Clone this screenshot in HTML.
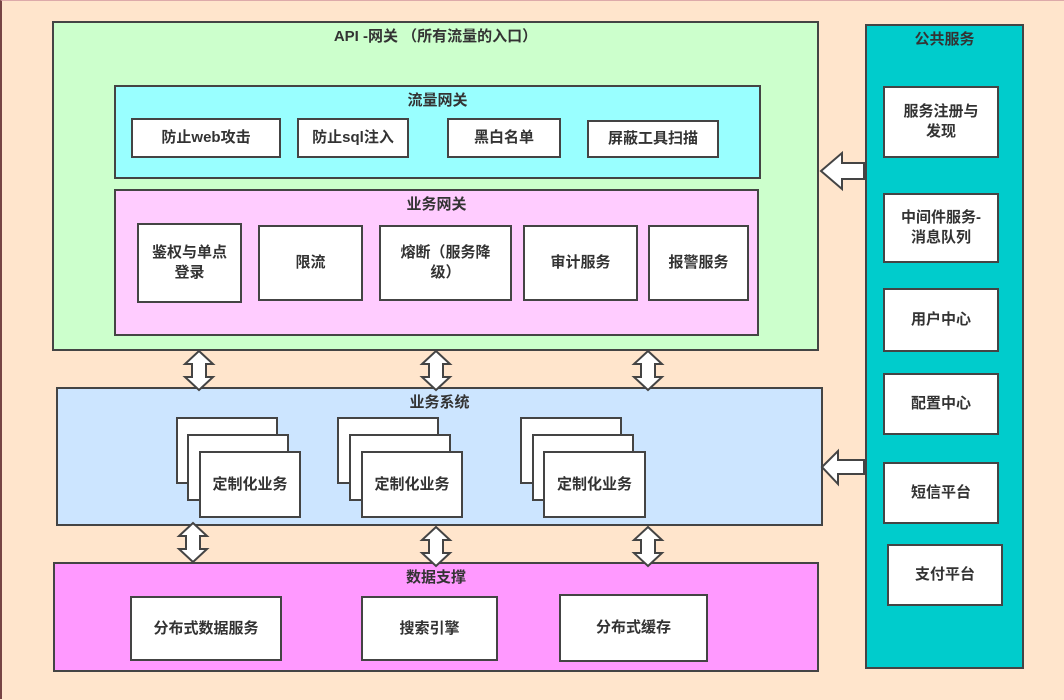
<!DOCTYPE html>
<html><head><meta charset="utf-8"><style>
body{margin:0;width:1064px;height:700px;background:#FFE5CC;position:relative;overflow:hidden;font-family:"Liberation Sans","Noto Sans CJK SC",sans-serif;font-weight:bold;color:#333;}
.b{position:absolute;box-sizing:border-box;border:2px solid #444;}
.w{background:#fff;display:flex;align-items:center;justify-content:center;text-align:center;font-size:15px;line-height:20px;}
.t{position:absolute;left:0;right:0;text-align:center;font-size:15px;}
svg{position:absolute;left:0;top:0;}
</style></head><body>
<div style="position:absolute;left:0;top:0;width:1062px;height:698px;border-left:2px solid #744;border-top:1px solid #daa;"></div>

<div class="b" style="left:52px;top:21px;width:767px;height:330px;background:#CCFFCC;"><div class="t" style="top:2px;">API -网关 （所有流量的入口）</div></div>
<div class="b" style="left:114px;top:85px;width:647px;height:94px;background:#99FFFF;"><div class="t" style="top:2px;">流量网关</div></div>
<div class="b w" style="left:131px;top:118px;width:150px;height:40px;">防止web攻击</div>
<div class="b w" style="left:297px;top:118px;width:112px;height:40px;">防止sql注入</div>
<div class="b w" style="left:447px;top:118px;width:114px;height:40px;">黑白名单</div>
<div class="b w" style="left:587px;top:120px;width:132px;height:38px;">屏蔽工具扫描</div>

<div class="b" style="left:114px;top:189px;width:645px;height:147px;background:#FFCCFF;"><div class="t" style="top:2px;">业务网关</div></div>
<div class="b w" style="left:137px;top:223px;width:105px;height:80px;">鉴权与单点<br>登录</div>
<div class="b w" style="left:258px;top:225px;width:105px;height:76px;">限流</div>
<div class="b w" style="left:379px;top:225px;width:133px;height:76px;">熔断（服务降<br>级）</div>
<div class="b w" style="left:523px;top:225px;width:115px;height:76px;">审计服务</div>
<div class="b w" style="left:648px;top:225px;width:101px;height:76px;">报警服务</div>

<div class="b" style="left:56px;top:387px;width:767px;height:139px;background:#CCE5FF;"><div class="t" style="top:2px;">业务系统</div></div>
<div class="b" style="left:176px;top:417px;width:102px;height:67px;background:#fff;"></div>
<div class="b" style="left:187px;top:434px;width:102px;height:67px;background:#fff;"></div>
<div class="b w" style="left:199px;top:451px;width:102px;height:67px;">定制化业务</div>
<div class="b" style="left:337px;top:417px;width:102px;height:67px;background:#fff;"></div>
<div class="b" style="left:349px;top:434px;width:102px;height:67px;background:#fff;"></div>
<div class="b w" style="left:361px;top:451px;width:102px;height:67px;">定制化业务</div>
<div class="b" style="left:520px;top:417px;width:102px;height:67px;background:#fff;"></div>
<div class="b" style="left:532px;top:434px;width:102px;height:67px;background:#fff;"></div>
<div class="b w" style="left:543px;top:451px;width:103px;height:67px;">定制化业务</div>

<div class="b" style="left:53px;top:562px;width:766px;height:110px;background:#FF99FF;"><div class="t" style="top:2px;">数据支撑</div></div>
<div class="b w" style="left:130px;top:596px;width:152px;height:65px;">分布式数据服务</div>
<div class="b w" style="left:361px;top:596px;width:137px;height:65px;">搜索引擎</div>
<div class="b w" style="left:559px;top:594px;width:149px;height:68px;">分布式缓存</div>

<div class="b" style="left:865px;top:24px;width:159px;height:645px;background:#00CCCC;"><div class="t" style="top:2px;">公共服务</div></div>
<div class="b w" style="left:883px;top:86px;width:116px;height:72px;">服务注册与<br>发现</div>
<div class="b w" style="left:883px;top:193px;width:116px;height:70px;">中间件服务-<br>消息队列</div>
<div class="b w" style="left:883px;top:288px;width:116px;height:64px;">用户中心</div>
<div class="b w" style="left:883px;top:373px;width:116px;height:62px;">配置中心</div>
<div class="b w" style="left:883px;top:462px;width:116px;height:62px;">短信平台</div>
<div class="b w" style="left:887px;top:544px;width:116px;height:62px;">支付平台</div>

<svg width="1064" height="700" viewBox="0 0 1064 700">
<g fill="#fff" stroke="#444" stroke-width="2" stroke-linejoin="miter">
<path d="M199 351 L213 364 L206 364 L206 377 L213 377 L199 390 L185 377 L192 377 L192 364 L185 364 Z"/>
<path d="M436 351 L450 364 L443 364 L443 377 L450 377 L436 390 L422 377 L429 377 L429 364 L422 364 Z"/>
<path d="M648 351 L662 364 L655 364 L655 377 L662 377 L648 390 L634 377 L641 377 L641 364 L634 364 Z"/>
<path d="M193 523 L207 536 L200 536 L200 549 L207 549 L193 562 L179 549 L186 549 L186 536 L179 536 Z"/>
<path d="M436 527 L450 540 L443 540 L443 553 L450 553 L436 566 L422 553 L429 553 L429 540 L422 540 Z"/>
<path d="M648 527 L662 540 L655 540 L655 553 L662 553 L648 566 L634 553 L641 553 L641 540 L634 540 Z"/>
<path d="M821 171 L842 153 L842 163 L864 163 L864 179 L842 179 L842 189 Z"/>
<path d="M822 467 L838 451 L838 460 L864 460 L864 474 L838 474 L838 484 Z"/>
</g>
</svg>
</body></html>
